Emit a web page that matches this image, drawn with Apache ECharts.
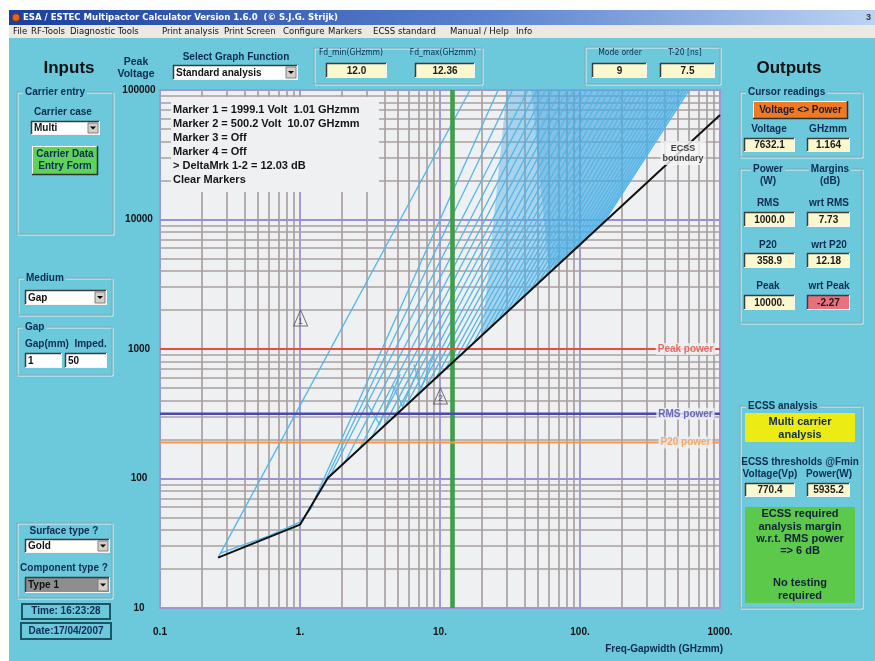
<!DOCTYPE html>
<html><head><meta charset="utf-8">
<script src="https://cdn.jsdelivr.net/npm/echarts@6/dist/echarts.min.js"></script>
<style>html,body{margin:0;padding:0;background:#fff}#c{width:875px;height:661px}</style>
</head><body><div id="c"></div>
<script>
// ================= DATA =================
const xTickLabels = ['0.1', '1.', '10.', '100.', '1000.'];
const yTickLabels = ['10', '100', '1000', '10000', '100000'];

// ECSS boundary (black)
const ecssBoundary = [[0.26, 24.5], [1.0, 44], [1.58, 101], [1000, 64000]];

// light-blue multipactor order lines: start points near boundary and top crossing frequency
const fanStart = [[1.64,105],[2.10,134],[2.68,172],[3.27,209],[3.98,255],[4.77,305],[5.72,366],[6.74,431],[7.94,508],[9.36,599],
  [11.0,706],[12.8,819],[14.8,950],[17.2,1101],[20.0,1277],[22.8,1457],[26.0,1662],[29.6,1895],[33.8,2162],[38.5,2466],
  [43.9,2812],[50.1,3208],[56.2,3599],[63.1,4038],[70.8,4531],[79.4,5084],[89.1,5704],[100,6400],[110,7066],[122,7795],
  [134,8608],[146,9344]];
const fanTopF = [42.5,49.3,56.7,63.8,72.9,81.2,90.3,101,112,123,137,149,163,179,195,210,229,247,265,289,311,333,359,382,406,436,462,490,521,548,577,601];
const fanTopV = 100000;

const extraLines = [
  [[0.26, 24.5], [16.4, 100000]],
  [[0.27, 26.5], [0.6, 36], [1.0, 46], [1.25, 62]],
  [[1.2, 60], [26, 100000]],
  [[1.4, 80], [33, 100000]],
  [[3.0, 383], [3.7, 262], [5.2, 640]],
  [[4.6, 520], [5.4, 360], [7.0, 700]],
  [[6.5, 760], [7.3, 490], [9.0, 900]]
];
// shaded envelopes of the densely packed order lines
const denseZone = [[30, 100000], [611, 100000], [146, 9344], [20, 1300]];
const denseCore = [[45, 100000], [585, 100000], [146, 9344], [60, 4100]];

const powerNames = ['Peak power', 'RMS power', 'P20 power'];
const powerVolts = [1000, 316.2, 189.4];
const fdRange = [12.0, 12.36];

const markerNames = ['1', '2'];
const markerF = [1.01, 10.07];
const markerV = [1999.1, 500.2];

const markerText = ['Marker 1 = 1999.1 Volt  1.01 GHzmm', 'Marker 2 = 500.2 Volt  10.07 GHzmm',
  'Marker 3 = Off', 'Marker 4 = Off', '> DeltaMrk 1-2 = 12.03 dB', 'Clear Markers'];

// ================= STYLE / LAYOUT =================
const FF = "'Liberation Sans', Arial, sans-serif";
const FN = "'Liberation Sans Narrow', 'DejaVu Sans Condensed', 'Liberation Sans', sans-serif";
const CYAN = '#6bc9db';
const NAVY = '#0d2a52';
const PLOT_BG = '#eef0f2';
const GRAY_GRID = '#aaa1a1';
const PURPLE_GRID = '#9d90d2';
const LBLUE = '#52b6e8';
const CLEAR = 'rgba(0,0,0,0)';
const powerColors = ['#e64c44', '#4b4aac', '#f3984a'];
const powerLabelF = 567;

const G = [];
function T(x, y, text, o) {
  o = o || {};
  const st = {text: text, x: x, y: y, font: (o.w || 'bold') + ' ' + (o.s || 10) + 'px ' + (o.f || FF),
    fill: o.c || NAVY, textAlign: o.a || 'left', align: o.a || 'left',
    textVerticalAlign: 'middle', verticalAlign: 'middle'};
  if (o.lh) st.lineHeight = o.lh;
  if (o.bg) { st.backgroundColor = o.bg; st.padding = o.pad || [0, 2]; }
  G.push({type: 'text', z: o.z || 20, style: st});
}
function R(x, y, w, h, fill, o) {
  o = o || {};
  G.push({type: 'rect', z: o.z || 10, shape: {x: x, y: y, width: w, height: h},
    style: {fill: fill, stroke: o.stroke || null, lineWidth: o.lw || 1}});
}
function L(x1, y1, x2, y2, c, lw, z) {
  G.push({type: 'line', z: z || 11, shape: {x1: x1, y1: y1, x2: x2, y2: y2}, style: {stroke: c, lineWidth: lw || 1}});
}
function sunken(x, y, w, h, fill) {
  R(x, y, w, h, fill);
  L(x, y + 0.5, x + w, y + 0.5, '#3c3c3c', 1.5); L(x + 0.5, y, x + 0.5, y + h, '#3c3c3c', 1.5);
  L(x, y + h - 0.5, x + w, y + h - 0.5, '#f4f4f4', 1); L(x + w - 0.5, y, x + w - 0.5, y + h, '#f4f4f4', 1);
}
function vbox(x, y, w, h, text, fill) {
  sunken(x, y, w, h, fill || '#fbf7cf');
  T(x + w / 2, y + h / 2 + 0.5, text, {a: 'center', c: '#1a1a1a', s: 10});
}
function dropdown(x, y, w, h, text, fill) {
  sunken(x, y, w, h, fill || '#ffffff');
  R(x + w - 12, y + 2, 10, h - 4, '#d4d0c8', {stroke: '#808080'});
  G.push({type: 'polygon', z: 12, shape: {points: [[x + w - 10, y + h / 2 - 1.5], [x + w - 4, y + h / 2 - 1.5], [x + w - 7, y + h / 2 + 1.5]]}, style: {fill: '#000'}});
  T(x + 3, y + h / 2 + 0.5, text, {c: '#111', s: 10});
}
function frame(x, y, w, h, label) {
  R(x + 1, y + 1, w, h, null, {stroke: '#e4f4f7', z: 9});
  R(x, y, w, h, null, {stroke: '#86a4ab', z: 9});
  if (label) T(x + 6, y, label, {bg: CYAN, pad: [0, 2], s: 10});
}
function raised(x, y, w, h, fill) {
  R(x, y, w, h, fill);
  L(x, y + 0.5, x + w, y + 0.5, '#ffffff', 1); L(x + 0.5, y, x + 0.5, y + h, '#ffffff', 1);
  L(x, y + h - 0.5, x + w, y + h - 0.5, '#303030', 1.5); L(x + w - 0.5, y, x + w - 0.5, y + h, '#303030', 1.5);
}

// window chrome
R(0, 0, 875, 661, '#ffffff', {z: -20});
R(9, 38, 866, 623, CYAN, {z: -19});
G.push({type: 'rect', z: -19, shape: {x: 9, y: 10, width: 866, height: 15},
  style: {fill: {type: 'linear', x: 0, y: 0, x2: 1, y2: 0, colorStops: [{offset: 0, color: '#1b3f9e'}, {offset: 0.55, color: '#5a82cf'}, {offset: 1, color: '#bcd3f2'}]}}});
R(9, 25, 866, 13, '#ece9e2', {z: -19});
G.push({type: 'circle', z: 12, shape: {cx: 16, cy: 17.5, r: 4}, style: {fill: '#e2641e', stroke: '#7a2a08'}});
T(23, 17.5, 'ESA / ESTEC Multipactor Calculator Version 1.6.0  (\u00A9 S.J.G. Strijk)', {c: '#ffffff', s: 9.5, f: FN});
T(866, 17.5, '3', {c: '#333', s: 9});
[['File', 13], ['RF-Tools', 31], ['Diagnostic Tools', 70], ['Print analysis', 162], ['Print Screen', 224], ['Configure', 283],
 ['Markers', 328], ['ECSS standard', 373], ['Manual / Help', 450], ['Info', 516]].forEach(m => T(m[1], 31.5, m[0], {w: 'normal', c: '#111', s: 9.5, f: FN}));

// header
T(69, 68, 'Inputs', {a: 'center', c: '#111', s: 17});
T(789, 68, 'Outputs', {a: 'center', c: '#111', s: 17});
T(236, 57, 'Select Graph Function', {a: 'center', s: 10});
dropdown(173, 65, 125, 15, 'Standard analysis');
frame(314, 48, 168, 36);
T(351, 53, 'Fd_min(GHzmm)', {a: 'center', w: 'normal', s: 8.5, f: FN});
T(443, 53, 'Fd_max(GHzmm)', {a: 'center', w: 'normal', s: 8.5, f: FN});
vbox(326, 63, 61, 15, '12.0');
vbox(415, 63, 60, 15, '12.36');
frame(585, 47, 135, 37);
T(620, 53, 'Mode order', {a: 'center', w: 'normal', s: 8.5, f: FN});
T(685, 53, 'T-20 [ns]', {a: 'center', w: 'normal', s: 8.5, f: FN});
vbox(592, 63, 55, 15, '9');
vbox(660, 63, 55, 15, '7.5');

// left panel
frame(17, 92, 96, 142, 'Carrier entry');
T(63, 112, 'Carrier case', {a: 'center'});
dropdown(31, 121, 69, 14, 'Multi');
raised(32, 146, 66, 29, '#5ed35c');
T(65, 160.5, 'Carrier Data\nEntry Form', {a: 'center', s: 10, lh: 12});
frame(18, 278, 94, 37, 'Medium');
dropdown(25, 290, 82, 15, 'Gap');
frame(17, 327, 95, 48, 'Gap');
T(25, 344, 'Gap(mm)  Imped.', {s: 10});
sunken(25, 353, 37, 15, '#ffffff'); T(28, 361, '1', {c: '#111'});
sunken(65, 353, 42, 15, '#ffffff'); T(68, 361, '50', {c: '#111'});
frame(17, 523, 95, 75);
T(64, 531, 'Surface type ?', {a: 'center'});
dropdown(25, 539, 85, 14, 'Gold');
T(64, 568, 'Component type ?', {a: 'center'});
dropdown(25, 577, 85, 16, 'Type 1', '#8e8e8e');
R(22, 604, 88, 15, null, {stroke: '#1c5566', lw: 2});
T(66, 611.5, 'Time: 16:23:28', {a: 'center'});
R(21, 623, 90, 16, null, {stroke: '#1c5566', lw: 2});
T(66, 631, 'Date:17/04/2007', {a: 'center'});

// right panel
frame(740, 92, 122, 65, 'Cursor readings');
raised(753, 101, 95, 18, '#f07a22');
T(800.5, 110.5, 'Voltage <> Power', {a: 'center', c: '#1a1a3a'});
T(769, 129, 'Voltage', {a: 'center'});
T(828, 129, 'GHzmm', {a: 'center'});
vbox(744, 138, 51, 14, '7632.1');
vbox(807, 138, 43, 14, '1.164');
frame(740, 169, 122, 154);
T(768, 169, 'Power', {a: 'center', bg: CYAN});
T(768, 181, '(W)', {a: 'center'});
T(830, 169, 'Margins', {a: 'center', bg: CYAN});
T(830, 181, '(dB)', {a: 'center'});
T(768, 203, 'RMS', {a: 'center'}); T(829, 203, 'wrt RMS', {a: 'center'});
vbox(744, 212, 51, 15, '1000.0'); vbox(807, 212, 43, 15, '7.73');
T(768, 245, 'P20', {a: 'center'}); T(829, 245, 'wrt P20', {a: 'center'});
vbox(744, 253, 51, 15, '358.9'); vbox(807, 253, 43, 15, '12.18');
T(768, 286, 'Peak', {a: 'center'}); T(829, 286, 'wrt Peak', {a: 'center'});
vbox(744, 295, 51, 15, '10000.'); vbox(807, 295, 43, 15, '-2.27', '#e9707f');
frame(740, 406, 122, 202, 'ECSS analysis');
R(745, 413, 110, 29, '#ecec14');
T(800, 428, 'Multi carrier\nanalysis', {a: 'center', s: 11, lh: 13});
T(800, 462, 'ECSS thresholds @Fmin', {a: 'center'});
T(770, 474, 'Voltage(Vp)', {a: 'center'});
T(829, 474, 'Power(W)', {a: 'center'});
vbox(745, 483, 50, 14, '770.4');
vbox(807, 483, 43, 14, '5935.2');
R(745, 507, 110, 96, '#5cc94a');
T(800, 514, 'ECSS required', {a: 'center', s: 11, c: '#10203a'});
T(800, 527, 'analysis margin', {a: 'center', s: 11, c: '#10203a'});
T(800, 539, 'w.r.t. RMS power', {a: 'center', s: 11, c: '#10203a'});
T(800, 551, '=> 6 dB', {a: 'center', s: 11, c: '#10203a'});
T(800, 583, 'No testing', {a: 'center', s: 11, c: '#10203a'});
T(800, 596, 'required', {a: 'center', s: 11, c: '#10203a'});

// marker info box over the plot
R(171, 97, 208, 95, PLOT_BG, {z: 50});
markerText.forEach((t, i) => T(173, 110 + i * 14, t, {c: '#151515', s: 11, z: 51}));

// ================= CHART =================
const gridLines = [];
[0.1, 1, 10, 100].forEach(d => {
  for (let k = 2; k <= 9; k++) gridLines.push({xAxis: k * d, lineStyle: {color: GRAY_GRID, width: 1.7, type: 'solid'}});
  if (d > 0.1) gridLines.push({xAxis: d, lineStyle: {color: PURPLE_GRID, width: 1.8, type: 'solid'}});
});
[10, 100, 1000, 10000].forEach(d => {
  for (let k = 2; k <= 9; k++) gridLines.push({yAxis: k * d, lineStyle: {color: GRAY_GRID, width: 1.7, type: 'solid'}});
  if (d > 10) gridLines.push({yAxis: d, lineStyle: {color: PURPLE_GRID, width: 1.8, type: 'solid'}});
});

const orderLines = fanStart.map((s, i) => ({coords: [s, [fanTopF[i], fanTopV]]}))
  .concat(extraLines.map(l => ({coords: l})));

function zoneSeries(pts, fill) {
  return {type: 'custom', z: 2, silent: true, data: pts,
    renderItem: function (params, api) {
      if (params.dataIndex !== 0) return null;
      return {type: 'polygon', shape: {points: pts.map(p => api.coord(p))}, style: {fill: fill}};
    }};
}
const series = [
  {type: 'line', z: 1, data: [], silent: true,
   markLine: {z: 1, silent: true, symbol: ['none', 'none'], label: {show: false}, animation: false, data: gridLines}},
  zoneSeries(denseZone, 'rgba(70,172,228,0.42)'),
  zoneSeries(denseCore, 'rgba(60,160,222,0.35)'),
  {type: 'lines', coordinateSystem: 'cartesian2d', polyline: true, z: 3, silent: true,
   lineStyle: {color: LBLUE, width: 1.3, opacity: 1}, data: orderLines},
];
powerNames.forEach((n, i) => {
  series.push({type: 'line', z: 4, silent: true, symbol: 'none', data: [[0.1, powerVolts[i]], [1000, powerVolts[i]]],
    lineStyle: {color: powerColors[i], width: i === 1 ? 2.5 : 2}});
  series.push({type: 'scatter', z: 6, silent: true, symbolSize: 2, itemStyle: {color: CLEAR},
    data: [[powerLabelF, powerVolts[i]]],
    label: {show: true, position: 'inside', formatter: n, color: powerColors[i], fontWeight: 'bold', fontSize: 10,
      fontFamily: FF, backgroundColor: PLOT_BG, padding: [1, 2]}});
});
series.push({type: 'line', z: 4, data: [], silent: true,
  markLine: {z: 4, silent: true, symbol: ['none', 'none'], label: {show: false}, animation: false,
    data: fdRange.map(v => ({xAxis: v, lineStyle: {color: '#3f9c4a', width: 2.6, type: 'solid'}}))}});
series.push({type: 'line', z: 5, silent: true, symbol: 'none', data: ecssBoundary, lineStyle: {color: '#111', width: 2}});
series.push({type: 'scatter', z: 7, silent: true, symbolSize: 2, itemStyle: {color: CLEAR},
  data: [[544, 32600]],
  label: {show: true, position: 'inside', formatter: 'ECSS\nboundary', color: '#111', fontWeight: 'bold', fontSize: 9,
    lineHeight: 10, fontFamily: FF, backgroundColor: '#f6f6f6', padding: [2, 2]}});
series.push({type: 'scatter', z: 7, silent: true, symbol: 'triangle', symbolSize: [14, 16], symbolOffset: [0, '50%'],
  itemStyle: {color: 'rgba(255,255,255,0)', borderColor: '#555', borderWidth: 1},
  data: markerF.map((f, i) => ({value: [f, markerV[i]], name: markerNames[i]})),
  label: {show: true, position: 'inside', formatter: p => p.name, color: '#444', fontSize: 9, offset: [0, 3]}});

const expIdx = v => Math.round(Math.log10(v));
const option = {
  animation: false,
  backgroundColor: 'transparent',
  graphic: {elements: G},
  grid: {left: 160, top: 90, width: 560, height: 518, show: true, backgroundColor: PLOT_BG, borderColor: '#9f96d4', borderWidth: 2},
  xAxis: {type: 'log', logBase: 10, min: 0.1, max: 1000, splitNumber: 4,
    name: 'Freq-Gapwidth (GHzmm)', nameLocation: 'end', nameGap: 3,
    nameTextStyle: {align: 'right', verticalAlign: 'top', padding: [36, 0, 0, 0], fontWeight: 'bold', fontSize: 10, color: NAVY, fontFamily: FF},
    axisLine: {show: false}, axisTick: {show: false}, splitLine: {show: false},
    axisLabel: {fontWeight: 'bold', fontSize: 10, color: '#111', fontFamily: FF, margin: 19, showMinLabel: true, showMaxLabel: true,
      formatter: v => xTickLabels[expIdx(v) + 1] || ''}},
  yAxis: {type: 'log', logBase: 10, min: 10, max: 100000, splitNumber: 4,
    name: 'Peak\nVoltage', nameLocation: 'end', nameGap: 10,
    nameTextStyle: {align: 'center', fontWeight: 'bold', fontSize: 10.5, color: NAVY, fontFamily: FF, lineHeight: 12, padding: [0, 48, 0, 0]},
    axisLine: {show: false}, axisTick: {show: false}, splitLine: {show: false},
    axisLabel: {fontWeight: 'bold', fontSize: 10, color: '#111', fontFamily: FF, margin: 21, align: 'center', showMinLabel: true, showMaxLabel: true,
      formatter: v => yTickLabels[expIdx(v) - 1] || ''}},
  series: series
};
const chart = echarts.init(document.getElementById('c'), null, {renderer: 'canvas'});
chart.setOption(option);
</script>
</body></html>
